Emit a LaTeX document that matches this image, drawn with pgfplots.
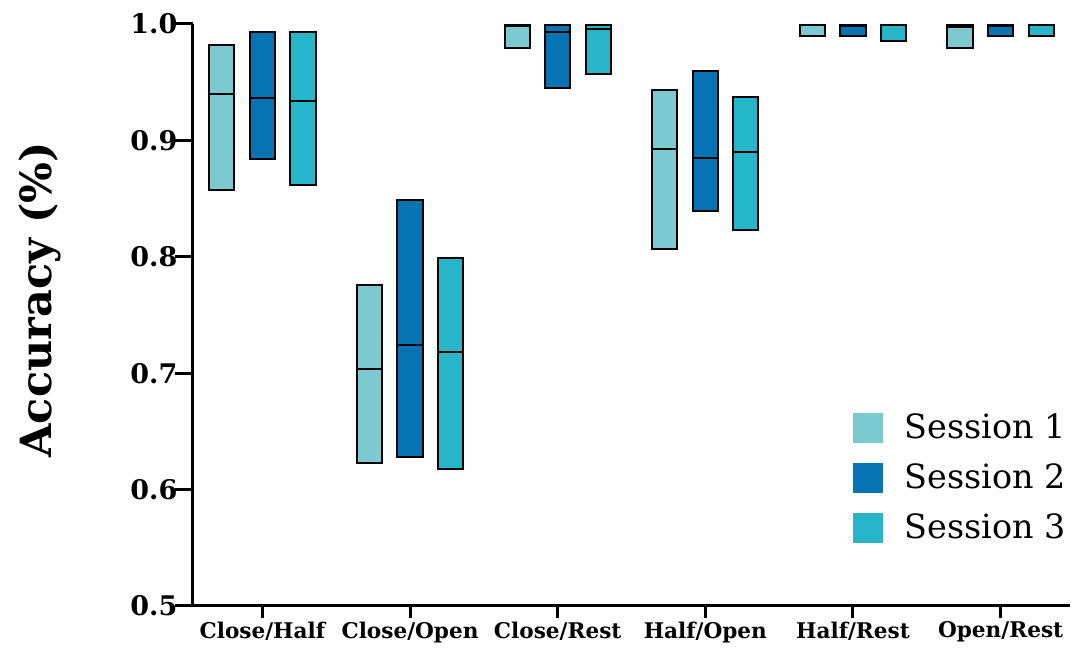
\documentclass[border=0pt]{standalone}
\usepackage{fontspec}
\setmainfont{DejaVu Serif}
\usepackage{pgfplots}
\pgfplotsset{compat=1.18}
\definecolor{cA}{HTML}{7CC9D2}
\definecolor{cB}{HTML}{0673B3}
\definecolor{cC}{HTML}{27B6C9}
% left edge, right edge, colour, low, median, high
\newcommand\bx[6]{%
  \addplot[forget plot, draw=black, line width=1pt, fill=#3, mark=none]
    coordinates {(#1,#4) (#2,#4) (#2,#6) (#1,#6)} -- cycle;
  \addplot[forget plot, black, line width=1pt, mark=none]
    coordinates {(#1,#5) (#2,#5)};}
\begin{document}
\begin{tikzpicture}
\path[use as bounding box] (-96.5pt,-25pt) rectangle (440.5pt,303pt);
\begin{axis}[
  scale only axis, width=438.5pt, height=291pt,
  at={(0,0)}, anchor=south west,
  clip=false,
  xmin=-0.47, xmax=5.47, ymin=0.5, ymax=1.0,
  axis lines=left,
  axis line style={line width=1.5pt, -},
  xtick={0,1,2,3,4,5},
  xticklabels={Close/Half,Close/Open,Close/Rest,Half/Open,Half/Rest,Open/Rest},
  ytick={0.5,0.6,0.7,0.8,0.9,1.0},
  /pgf/number format/assume math mode=true,
  yticklabel style={/pgf/number format/fixed, /pgf/number format/precision=1,
    /pgf/number format/fixed zerofill, font=\bfseries\fontsize{13.5}{16}\selectfont},
  xticklabel style={font=\bfseries\fontsize{10.8}{12}\selectfont},
  tick style={line width=1.5pt, black},
  tick align=outside,
  x tick style={/pgfplots/major tick length=6pt},
  y tick style={/pgfplots/major tick length=9pt},
  ylabel={\bfseries Accuracy (\%)},
  ylabel style={font=\fontsize{21.5}{24}\selectfont, at={(axis description cs:-0.175,0.526)}, anchor=center},
  legend style={at={(axis description cs:0.752,0.333)}, anchor=north west, draw=none, fill=none,
    font=\fontsize{16.7}{20}\selectfont, row sep=9pt, inner sep=0pt,
    nodes={text height=12pt, text depth=3pt, inner sep=0pt},
    /tikz/every odd column/.append style={column sep=11pt}},
  legend cell align=left,
  legend image code/.code={\fill[#1,draw=none] (0pt,-6.5pt) rectangle (15pt,8.5pt);},
]
% Close/Half
\bx{-0.36}{-0.19}{cA}{0.857}{0.940}{0.982}
\bx{-0.085}{0.085}{cB}{0.884}{0.936}{0.993}
\bx{0.19}{0.36}{cC}{0.862}{0.934}{0.993}
% Close/Open
\bx{0.64}{0.81}{cA}{0.623}{0.704}{0.776}
\bx{0.915}{1.085}{cB}{0.628}{0.724}{0.849}
\bx{1.19}{1.36}{cC}{0.618}{0.718}{0.799}
% Close/Rest
\bx{1.64}{1.81}{cA}{0.979}{0.998}{0.999}
\bx{1.915}{2.085}{cB}{0.945}{0.993}{0.999}
\bx{2.19}{2.36}{cC}{0.957}{0.996}{0.999}
% Half/Open
\bx{2.64}{2.81}{cA}{0.807}{0.893}{0.943}
\bx{2.915}{3.085}{cB}{0.839}{0.885}{0.960}
\bx{3.19}{3.36}{cC}{0.823}{0.890}{0.937}
% Half/Rest
\bx{3.64}{3.81}{cA}{0.990}{0.999}{0.999}
\bx{3.915}{4.085}{cB}{0.990}{0.998}{0.999}
\bx{4.19}{4.36}{cC}{0.985}{0.999}{0.999}
% Open/Rest
\bx{4.64}{4.81}{cA}{0.979}{0.997}{0.999}
\bx{4.915}{5.085}{cB}{0.990}{0.998}{0.999}
\bx{5.19}{5.36}{cC}{0.990}{0.999}{0.999}
\addlegendimage{fill=cA}\addlegendentry{Session 1}
\addlegendimage{fill=cB}\addlegendentry{Session 2}
\addlegendimage{fill=cC}\addlegendentry{Session 3}
\end{axis}
\end{tikzpicture}
\end{document}
